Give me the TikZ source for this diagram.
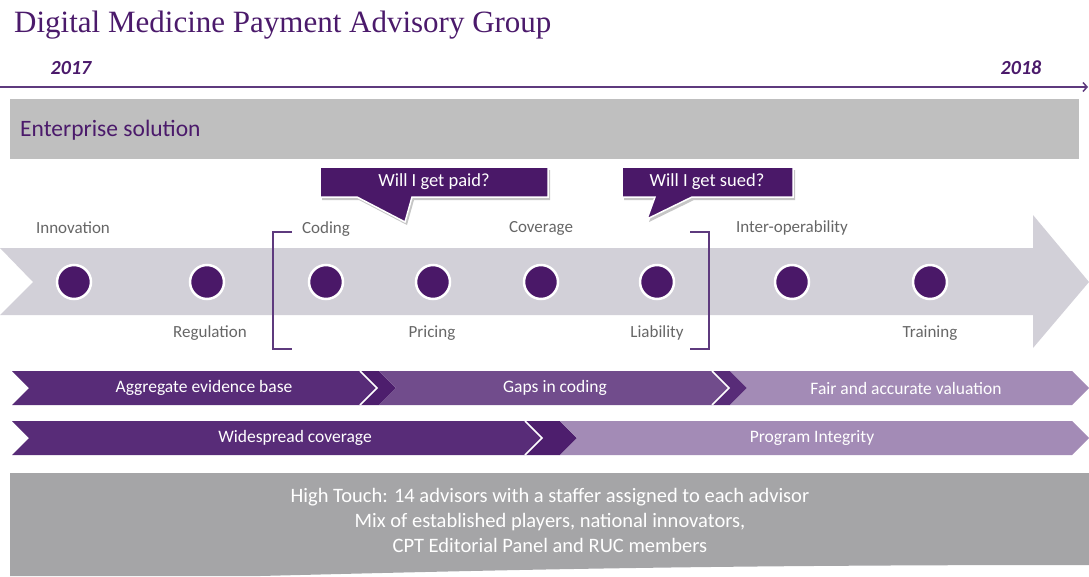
\documentclass[tikz,border=0pt]{standalone}
\usepackage{fontspec}
\setmainfont{Carlito}
\newfontfamily\titlefont{Liberation Serif}
\usepackage{tikz}
\usetikzlibrary{calc,shadows,arrows.meta}

\definecolor{dmpurple}{HTML}{4A1868}
\definecolor{dmtitle}{HTML}{4B1A6B}
\definecolor{dmline}{HTML}{5E3A7E}
\definecolor{chevdark}{HTML}{582C78}
\definecolor{chevmid}{HTML}{714C8C}
\definecolor{chevlight}{HTML}{A38BB6}
\definecolor{chevwedge}{HTML}{4D1E6D}
\definecolor{arrowgray}{HTML}{D2D0D8}
\definecolor{boxgray}{HTML}{BFBFBF}
\definecolor{bottomgray}{HTML}{A5A5A7}
\definecolor{labgray}{HTML}{666666}

\tikzset{
  dot/.style={draw=white, line width=2.5pt, fill=dmpurple, circle, inner sep=0pt, minimum size=34pt},
  lab/.style={text=labgray, font=\fontsize{17}{19}\selectfont},
  chevtext/.style={text=white, font=\fontsize{17.5}{19}\selectfont},
  callout/.style={fill=dmpurple, draw=white, line width=1.5pt,
    drop shadow={shadow xshift=2pt, shadow yshift=-3pt, opacity=.45}},
  gap/.style={draw=white, line width=1.5pt}
}

\begin{document}
\begin{tikzpicture}[x=1pt,y=-1pt]
      \useasboundingbox (0,0) rectangle (1089,576);

      % title and years
      \node (title) at (14,25) [anchor=west, inner sep=0pt, text=dmtitle, font=\titlefont\fontsize{31}{33}\selectfont] {Digital Medicine Payment Advisory Group};
      \node (y17) at (71,68) [text=dmtitle, font=\fontsize{20}{22}\selectfont\bfseries\itshape] {2017};
      \node (y18) at (1021,68) [text=dmtitle, font=\fontsize{20}{22}\selectfont\bfseries\itshape] {2018};
      \coordinate (tlA) at (0,87);
      \coordinate (tlB) at (1088,87);
      \draw[dmline, line width=1.5pt, -{Straight Barb[length=4pt,width=9pt]}] (tlA) -- (tlB);

      % enterprise band
      \fill[boxgray] (10,99) rectangle (1079,159);
      \node (ent) at (20,130) [anchor=west, inner sep=0pt, text=dmtitle, font=\fontsize{23.5}{26}\selectfont] {Enterprise solution};

      % big arrow
      \fill[arrowgray] (0,248) -- (1033,248) -- (1033,215) -- (1089,282) -- (1033,348)
          -- (1033,315) -- (0,315) -- (33,282) -- cycle;

      \foreach \x/\n in {74/c1,207/c2,326/c3,433/c4,541/c5,657/c6,792/c7,930/c8}
        \node (\n) at (\x,282) [dot] {};

      \node (inno) at (73,228) [lab] {Innovation};
      \node (codi) at (326,229) [lab] {Coding};
      \node (cove) at (541,228) [lab] {Coverage};
      \node (inte) at (792,228) [lab] {Inter-operability};
      \node (regu) at (210,333) [lab] {Regulation};
      \node (pric) at (432,333) [lab] {Pricing};
      \node (liab) at (657,333) [lab] {Liability};
      \node (trai) at (930,333) [lab] {Training};

      % brackets
      \draw[dmline, line width=1.5pt] (292,232) -- (273,232) -- (273,349) -- (292,349);
      \draw[dmline, line width=1.5pt] (690,232) -- (709,232) -- (709,349) -- (690,349);

      % callouts
      \draw[callout] (320,167) -- (548,167) -- (548,197) -- (412,197) -- (405,222)
          -- (357,197) -- (320,197) -- cycle;
      \node (paid) at (434,182) [text=white, font=\fontsize{18.5}{20}\selectfont] {Will I get paid?};
      \draw[callout] (622,167) -- (793,167) -- (793,197) -- (692,197) -- (647,219)
          -- (655,197) -- (622,197) -- cycle;
      \node (sued) at (707,182) [text=white, font=\fontsize{18.5}{20}\selectfont] {Will I get sued?};

      % chevrons, first row
      \fill[chevdark] (12,371) -- (360,371) -- (377,388) -- (360,405) -- (12,405) -- (29,388) -- cycle;
      \fill[chevwedge] (360,371) -- (379,371) -- (396,388) -- (379,405) -- (360,405) -- (377,388) -- cycle;
      \fill[chevmid] (379,371) -- (712,371) -- (729,388) -- (712,405) -- (379,405) -- (396,388) -- cycle;
      \fill[chevdark] (712,371) -- (730,371) -- (747,388) -- (730,405) -- (712,405) -- (729,388) -- cycle;
      \fill[chevlight] (730,371) -- (1072,371) -- (1089,388) -- (1072,405) -- (730,405) -- (747,388) -- cycle;
      \draw[gap] (360,371) -- (377,388) -- (360,405);
      \draw[gap] (712,371) -- (729,388) -- (712,405);
      \node (agg) at (204,388) [chevtext] {Aggregate evidence base};
      \node (gaps) at (555,388) [chevtext] {Gaps in coding};
      \node (fair) at (906,388) [chevtext] {Fair and accurate valuation};

      % chevrons, second row
      \fill[chevdark] (12,421) -- (525,421) -- (542,438) -- (525,455) -- (12,455) -- (29,438) -- cycle;
      \fill[chevwedge] (525,421) -- (560,421) -- (577,438) -- (560,455) -- (525,455) -- (542,438) -- cycle;
      \fill[chevlight] (560,421) -- (1072,421) -- (1089,438) -- (1072,455) -- (560,455) -- (577,438) -- cycle;
      \draw[gap] (525,421) -- (542,438) -- (525,455);
      \node (wide) at (295,438) [chevtext] {Widespread coverage};
      \node (prog) at (812,438) [chevtext] {Program Integrity};

      % high touch box
      \fill[bottomgray] (10,473) -- (1089,473) -- (1089,565) .. controls (700,565) and (500,570) .. (260,576)
          -- (10,576) -- cycle;
      \node (high) at (550,520) [text=white, align=center, font=\fontsize{20.5}{25}\selectfont]
          {High Touch: 14 advisors with a staffer assigned to each advisor\\
           Mix of established players, national innovators,\\
           CPT Editorial Panel and RUC members};

    \end{tikzpicture}
\end{document}
